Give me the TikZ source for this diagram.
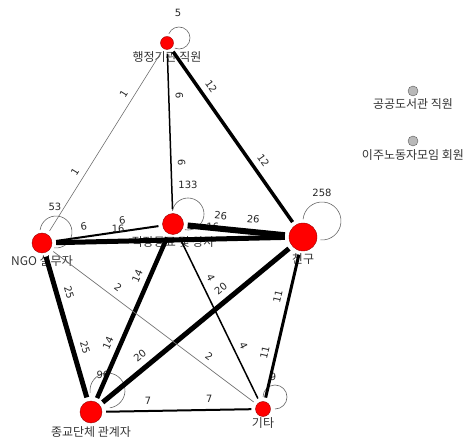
\documentclass[tikz,border=0pt]{standalone}
\usepackage{fontspec}
\newfontfamily\krfont{Noto Sans CJK KR}
\newfontfamily\numfont{DejaVu Sans}
\usetikzlibrary{positioning}

\tikzset{
  actor/.style={circle, fill=red, draw=red!60!black, line width=0.4pt, inner sep=0pt, minimum size=#1},
  idle/.style={circle, fill=gray!55, draw=gray!70!black, line width=0.4pt, inner sep=0pt, minimum size=10pt},
  actorname/.style={font=\krfont\fontsize{12}{14}\selectfont, text=black!80, inner sep=1pt},
  tie/.style={line width=#1, shorten <=4pt, shorten >=4pt},
  wt/.style={font=\numfont\fontsize{10}{12}\selectfont, text=black!85, sloped, above=5pt, inner sep=1pt},
  selfloop/.style={draw=black!60, line width=0.6pt},
  cnt/.style={font=\numfont\fontsize{10}{12}\selectfont, text=black!85, inner sep=0pt},
}

\begin{document}
\begin{tikzpicture}[x=1pt,y=1pt]
\useasboundingbox (0,0) rectangle (470,441);

% actors
\node[actor=13pt] (admin) at (167,398) {};
\node[actor=21pt] (work) at (173,217) {};
\node[actor=20pt] (ngo) at (42,198) {};
\node[actor=28pt] (friend) at (303,204) {};
\node[actor=22pt] (relig) at (91,29) {};
\node[actor=15pt] (other) at (263,32) {};
\node[idle] (lib) at (413,350) {};
\node[idle] (migr) at (413,300) {};

% names
\node[actorname, below=1pt of admin] (admin-n) {행정기관 직원};
\node[actorname, below=1pt of work] (work-n) {직장동료 및 상사};
\node[actorname, below=1pt of ngo] (ngo-n) {NGO 실무자};
\node[actorname, below=1pt of friend] (friend-n) {친구};
\node[actorname, below=2pt of relig] (relig-n) {종교단체 관계자};
\node[actorname, below=0pt of other] (other-n) {기타};
\node[actorname, below=1pt of lib] (lib-n) {공공도서관 직원};
\node[actorname, below=2pt of migr] (migr-n) {이주노동자모임 회원};

% self ties
\foreach \n/\dx/\dy/\r/\v/\lx/\ly in {admin/12/5/11/5/11/30, ngo/14/11/16/53/13/36,
    work/15/10/16/133/15/39, friend/19/16/19/258/19/44,
    relig/16.5/21.5/17.5/96/12/37, other/12/12/12/9/10/32}{
  \pgfmathsetmacro\sa{atan2(\dy,\dx)+225}
  \draw[selfloop] (\n.center) ++(\dx,\dy) ++(\sa:\r) arc[start angle=\sa, delta angle=270, radius=\r];
  \node[cnt] (\n-self) at ([shift={(\lx,\ly)}]\n.center) {\v};
}

% ties
\draw[tie=0.6pt, draw=black!55] (admin) -- node[wt, pos=.27] {1} node[wt, pos=.69] {1} (ngo);
\draw[tie=1.5pt] (admin) -- node[wt, pos=.28] {6} node[wt, pos=.69] {6} (work);
\draw[tie=3.5pt] (admin) -- node[wt, pos=.25] {12} node[wt, pos=.67] {12} (friend);
\draw[tie=2pt] (ngo) -- node[wt, pos=.3] {6} node[wt, pos=.65] {6} (work);
\draw[tie=5pt] (ngo) -- node[wt, pos=.28] {16} node[wt, pos=.68] {16} (friend);
\draw[tie=6pt] (work) -- node[wt, pos=.34] {26} node[wt, pos=.65] {26} (friend);
\draw[tie=4.5pt] (work) -- node[wt, pos=.28] {14} node[wt, pos=.68] {14} (relig);
\draw[tie=1.5pt] (work) -- node[wt, pos=.29] {4} node[wt, pos=.69] {4} (other);
\draw[tie=5pt] (friend) -- node[wt, pos=.33] {20} node[wt, pos=.75] {20} (relig);
\draw[tie=3pt] (friend) -- node[wt, pos=.32] {11} node[wt, pos=.69] {11} (other);
\draw[tie=5pt] (ngo) -- node[wt, pos=.29] {25} node[wt, pos=.66] {25} (relig);
\draw[tie=0.7pt, draw=black!55] (ngo) -- node[wt, pos=.3] {2} node[wt, pos=.74] {2} (other);
\draw[tie=2pt] (relig) -- node[wt, pos=.3] {7} node[wt, pos=.7] {7} (other);
\end{tikzpicture}
\end{document}
